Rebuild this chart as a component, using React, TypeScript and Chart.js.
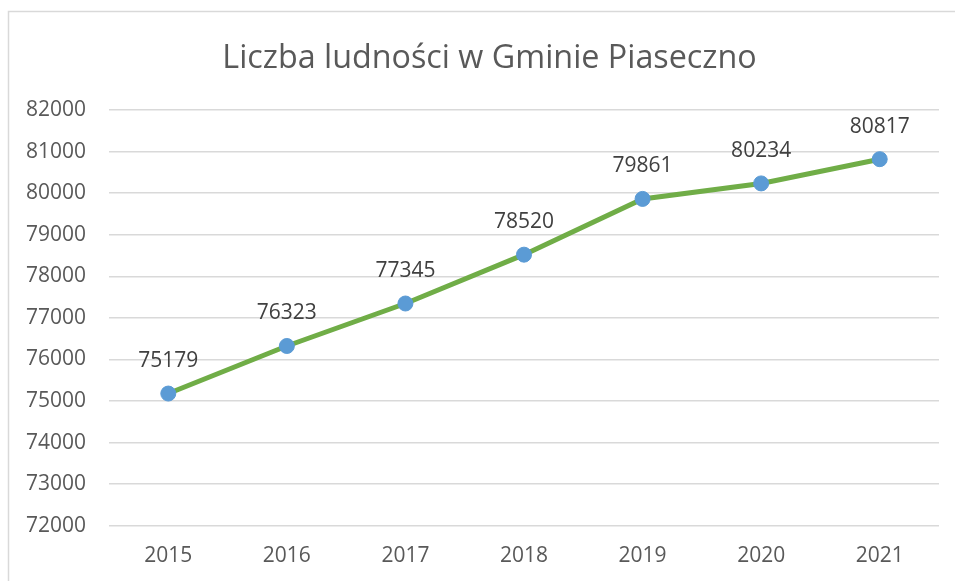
import React, { useEffect, useRef } from "react";
import { Chart, registerables } from "chart.js";

Chart.register(...registerables);

const TITLE = "Liczba ludności w Gminie Piaseczno";
const YEARS = ["2015", "2016", "2017", "2018", "2019", "2020", "2021"];
const POPULATION = [75179, 76323, 77345, 78520, 79861, 80234, 80817];
const Y_MIN = 72000;
const Y_MAX = 82000;
const Y_STEP = 1000;

const FONT = "'Open Sans', 'Liberation Sans', sans-serif";

const frame = {
  id: "frame",
  beforeDraw(chart: any) {
    const ctx = chart.ctx;
    ctx.save();
    ctx.fillStyle = "#ffffff";
    ctx.fillRect(0, 0, chart.width, chart.height);
    ctx.strokeStyle = "#d9d9d9";
    ctx.lineWidth = 1.5;
    ctx.strokeRect(8.5, 11.5, chart.width + 20, chart.height + 20);
    ctx.restore();
  },
  afterDraw(chart: any) {
    const ctx = chart.ctx;
    ctx.save();
    ctx.font = `32.3px ${FONT}`;
    ctx.fillStyle = "#595959";
    ctx.textAlign = "center";
    ctx.textBaseline = "alphabetic";
    ctx.fillText(TITLE, 489.5, 68);
    ctx.restore();
  },
};

const valueLabels = {
  id: "valueLabels",
  afterDatasetsDraw(chart: any) {
    const ctx = chart.ctx;
    const meta = chart.getDatasetMeta(0);
    const data = chart.data.datasets[0].data;
    ctx.save();
    ctx.font = `21px ${FONT}`;
    ctx.fillStyle = "#404040";
    ctx.textAlign = "center";
    ctx.textBaseline = "middle";
    meta.data.forEach((pt: any, i: number) => {
      ctx.fillText(String(data[i]), pt.x, pt.y - 32.5);
    });
    ctx.restore();
  },
};

export default function App() {
  const ref = useRef<HTMLCanvasElement>(null);
  useEffect(() => {
    if (!ref.current) return;
    const chart = new Chart(ref.current, {
      type: "line",
      data: {
        labels: YEARS,
        datasets: [
          {
            data: POPULATION,
            borderColor: "#70AD47",
            borderWidth: 5,
            pointBackgroundColor: "#5B9BD5",
            pointBorderColor: "#5B9BD5",
            pointRadius: 7.5,
            pointBorderWidth: 1,
            tension: 0,
          },
        ],
      },
      options: {
        responsive: false,
        animation: false,
        layout: { padding: { top: 110, right: 16, left: 0, bottom: 0 } },
        plugins: {
          legend: { display: false },
          tooltip: { enabled: false },
          title: { display: false },
        },
        scales: {
          x: {
            offset: true,
            grid: { display: false, drawTicks: false },
            border: { display: false },
            ticks: {
              color: "#595959",
              font: { family: FONT, size: 21 },
              padding: 18,
              maxRotation: 0,
            },
            afterFit(scale: any) {
              scale.height = 55.3;
            },
          },
          y: {
            min: Y_MIN,
            max: Y_MAX,
            grid: { color: "#d9d9d9", lineWidth: 1.5, drawTicks: false },
            border: { display: false },
            ticks: {
              stepSize: Y_STEP,
              color: "#595959",
              font: { family: FONT, size: 21 },
              padding: 23,
              callback: (v: any) => String(v),
            },
            afterFit(scale: any) {
              scale.width = 109;
            },
          },
        },
      },
      plugins: [frame, valueLabels],
    });
    return () => chart.destroy();
  }, []);
  return (
    <div style={{ position: "absolute", left: 0, top: 0, width: 955, height: 581 }}>
      <canvas ref={ref} width={955} height={581} />
    </div>
  );
}
